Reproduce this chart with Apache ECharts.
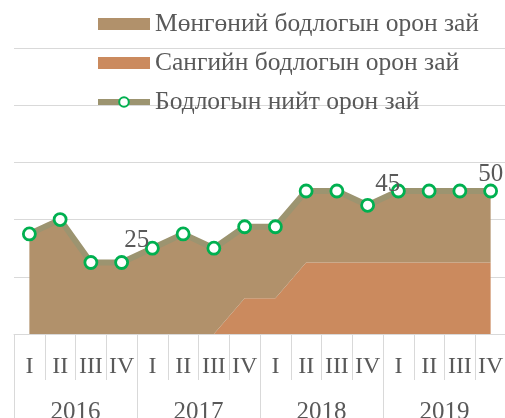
<!DOCTYPE html>
<html>
<head>
<meta charset="utf-8">
<script src="https://cdn.jsdelivr.net/npm/echarts@6/dist/echarts.min.js"></script>
<style>
  html, body { margin: 0; padding: 0; background: #fff; }
  #chart { width: 505px; height: 418px; }
</style>
</head>
<body>
<div id="chart"></div>
<script>
// quarters & years on the two-level category axis
const quarters = ['I','II','III','IV','I','II','III','IV','I','II','III','IV','I','II','III','IV'];
const years = ['2016','2017','2018','2019'];

// series values
const fiscal   = [0, 0, 0, 0, 0, 0, 0, 12.5, 12.5, 25, 25, 25, 25, 25, 25, 25];
const monetary = [35, 40, 25, 25, 30, 35, 30, 25, 25, 25, 25, 20, 25, 25, 25, 25];
const total    = [35, 40, 25, 25, 30, 35, 30, 37.5, 37.5, 50, 50, 45, 50, 50, 50, 50];

const NAME_MON = 'Мөнгөний бодлогын орон зай';
const NAME_FIS = 'Сангийн бодлогын орон зай';
const NAME_TOT = 'Бодлогын нийт орон зай';

const FONT = 'Liberation Serif';
const GREY = '#595959';
const LINE = '#d9d9d9';
const OLIVE = '#9c9470';

// which points carry a value label, and how far they are nudged
const labelled = { 3: [15, 3], 11: [20, 4], 15: [0, 8] };

let totalData = total.map(function (v, i) {
    if (!labelled[i]) return v;
    return {
        value: v,
        label: { show: true, position: 'top', offset: labelled[i],
                 fontFamily: FONT, fontSize: 25, color: GREY }
    };
});

let chart = echarts.init(document.getElementById('chart'));

chart.setOption({
    animation: false,
    textStyle: { fontFamily: FONT },
    // v6 shrinks the grid to keep labels inside unless told not to
    grid: { left: 14, right: -1, top: 48, bottom: 84, containLabel: false, outerBoundsMode: 'none' },
    legend: {
        orient: 'vertical',
        left: 95,
        top: 11,
        padding: 0,
        itemWidth: 52,
        itemHeight: 12,
        itemGap: 13,
        textStyle: { fontFamily: FONT, fontSize: 25.5, lineHeight: 24, color: GREY },
        data: [
            { name: NAME_MON, icon: 'rect' },
            { name: NAME_FIS, icon: 'rect' },
            { name: NAME_TOT, lineStyle: { width: 6, color: OLIVE } }
        ]
    },
    xAxis: [
        {
            type: 'category',
            data: quarters,
            boundaryGap: true,
            axisLine: { lineStyle: { color: LINE } },
            axisTick: { show: true, interval: 0, length: 46, lineStyle: { color: LINE } },
            axisLabel: { interval: 0, margin: 21, fontFamily: FONT, fontSize: 24, color: GREY }
        },
        {
            type: 'category',
            data: years,
            position: 'bottom',
            boundaryGap: true,
            axisLine: { show: false },
            axisTick: { show: true, interval: 0, length: 90, lineStyle: { color: LINE } },
            axisLabel: { interval: 0, margin: 66, fontFamily: FONT, fontSize: 25, color: GREY }
        }
    ],
    yAxis: {
        type: 'value',
        min: 0,
        max: 100,
        interval: 20,
        axisLabel: { show: false },
        axisLine: { show: false },
        axisTick: { show: false },
        splitLine: { lineStyle: { color: LINE } }
    },
    series: [
        {
            name: NAME_FIS,
            type: 'line',
            stack: 'space',
            data: fiscal,
            color: '#cb8a5e',
            symbol: 'none',
            lineStyle: { width: 0 },
            areaStyle: { color: '#cb8a5e', opacity: 1 },
            z: 1
        },
        {
            name: NAME_MON,
            type: 'line',
            stack: 'space',
            data: monetary,
            color: '#b1916b',
            symbol: 'none',
            lineStyle: { width: 0 },
            areaStyle: { color: '#b1916b', opacity: 1 },
            z: 2
        },
        {
            name: NAME_TOT,
            type: 'line',
            data: totalData,
            color: '#00b050',
            symbol: 'circle',
            symbolSize: 12,
            lineStyle: { color: OLIVE, width: 6 },
            itemStyle: { color: '#ffffff', borderColor: '#00b050', borderWidth: 2.8 },
            z: 3
        }
    ]
});
</script>
</body>
</html>
